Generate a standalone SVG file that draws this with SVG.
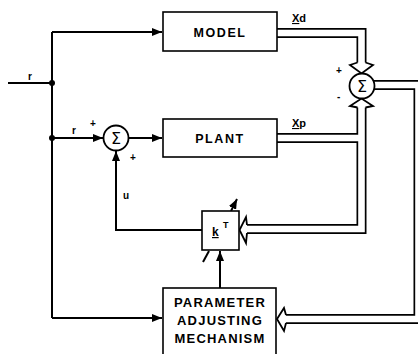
<svg xmlns="http://www.w3.org/2000/svg" width="418" height="354" viewBox="0 0 418 354">
<style>
.box{fill:#fff;stroke:#000;stroke-width:1.6}
.ln{fill:none;stroke:#000;stroke-width:2}
.dbk{fill:none;stroke:#000;stroke-width:10;stroke-linejoin:miter}
.dwh{fill:none;stroke:#fff;stroke-width:6.6;stroke-linejoin:miter}
.ha{fill:#fff;stroke:#000;stroke-width:1.8;stroke-linejoin:miter}
.t{font-family:"Liberation Sans",Arial,sans-serif;font-weight:bold;fill:#000}
.bt{font-size:12.5px;letter-spacing:1.6px;text-anchor:middle}
.pt{font-size:13px;letter-spacing:1.2px;text-anchor:middle}
.sm{font-size:10px}
.sig{font-family:"DejaVu Sans",sans-serif;font-size:16px;text-anchor:middle;fill:#000}
.circ{fill:#fff;stroke:#000;stroke-width:1.8}
</style>
<defs>
<marker id="arr" markerUnits="userSpaceOnUse" markerWidth="11" markerHeight="8" refX="10" refY="4" orient="auto">
<path d="M0,0 L10,4 L0,8 z" fill="#000"/>
</marker>
</defs>
<g id="connectors">
<path class="ln" d="M8,83 H52"/>
<path class="ln" d="M52,32 V318"/>
<path class="ln" d="M52,32 H162" marker-end="url(#arr)"/>
<path class="ln" d="M52,138 H103" marker-end="url(#arr)"/>
<path class="ln" d="M128,138 H162" marker-end="url(#arr)"/>
<path class="ln" d="M202,230 H116 V151" marker-end="url(#arr)"/>
<path class="ln" d="M52,318 H162" marker-end="url(#arr)"/>
<path class="ln" d="M220,288 V251" marker-end="url(#arr)"/>
<path class="ln" d="M203,262 L209,251"/>
<path class="ln" d="M231,211 L237,199" marker-end="url(#arr)"/>
<circle cx="52" cy="83" r="3" fill="#000"/>
<circle cx="52" cy="138" r="3" fill="#000"/>
<!-- double (vector) lines -->
<path class="dbk" d="M277,33 H361.5 V64"/>
<path class="dbk" d="M277,138 H361.5"/>
<path class="dbk" d="M361.5,105 V229 H246"/>
<path class="dbk" d="M368,85 H418.5 V319 H285"/>
<path class="dwh" d="M276,33 H361.5 V65"/>
<path class="dwh" d="M276,138 H361.5"/>
<path class="dwh" d="M361.5,104 V229 H245"/>
<path class="dwh" d="M368,85 H418.5 V319 H284"/>
<path class="ha" d="M357.5,62.5 L350,65 L361.5,73.5 L373,65 L365.5,62.5"/>
<path class="ha" d="M357.5,107.5 L350,106 L361.5,98.5 L373,106 L365.5,107.5"/>
<path class="ha" d="M247,225 L246,217 L239.5,230 L246,243 L247,233"/>
<path class="ha" d="M286,315 L284,308 L277,319 L284,331 L286,323"/>
</g>
<g id="model">
<rect class="box" x="163" y="12" width="114" height="39"/>
<text class="t bt" x="220" y="37">MODEL</text>
</g>
<g id="plant">
<rect class="box" x="163" y="119" width="114" height="38"/>
<text class="t bt" x="220" y="143">PLANT</text>
</g>
<g id="sum1">
<circle class="circ" cx="116" cy="138" r="12.5"/>
<text class="sig" x="116" y="144">Σ</text>
</g>
<g id="sum2">
<circle class="circ" cx="362" cy="86" r="12.5"/>
<text class="sig" x="362" y="92">Σ</text>
</g>
<g id="gain">
<rect class="box" x="202" y="211" width="37" height="39"/>
<text class="t" x="212" y="236" font-size="12"><tspan text-decoration="underline">k</tspan></text>
<text class="t" x="223" y="228" font-size="9">T</text>
</g>
<g id="pam">
<rect class="box" x="163" y="288" width="113" height="68"/>
<text class="t pt" x="220" y="307">PARAMETER</text>
<text class="t pt" x="220" y="325">ADJUSTING</text>
<text class="t pt" x="220" y="343">MECHANISM</text>
</g>
<g id="labels">
<text class="t sm" x="28" y="80">r</text>
<text class="t sm" x="72" y="134">r</text>
<text class="t sm" x="90" y="127">+</text>
<text class="t sm" x="130" y="161">+</text>
<text class="t sm" x="123" y="199">u</text>
<text class="t sm" x="336" y="74">+</text>
<text class="t sm" x="337" y="100">-</text>
<text class="t" x="292" y="22" font-size="11"><tspan text-decoration="underline">X</tspan>d</text>
<text class="t" x="292" y="127" font-size="11"><tspan text-decoration="underline">X</tspan>p</text>
</g>
</svg>
